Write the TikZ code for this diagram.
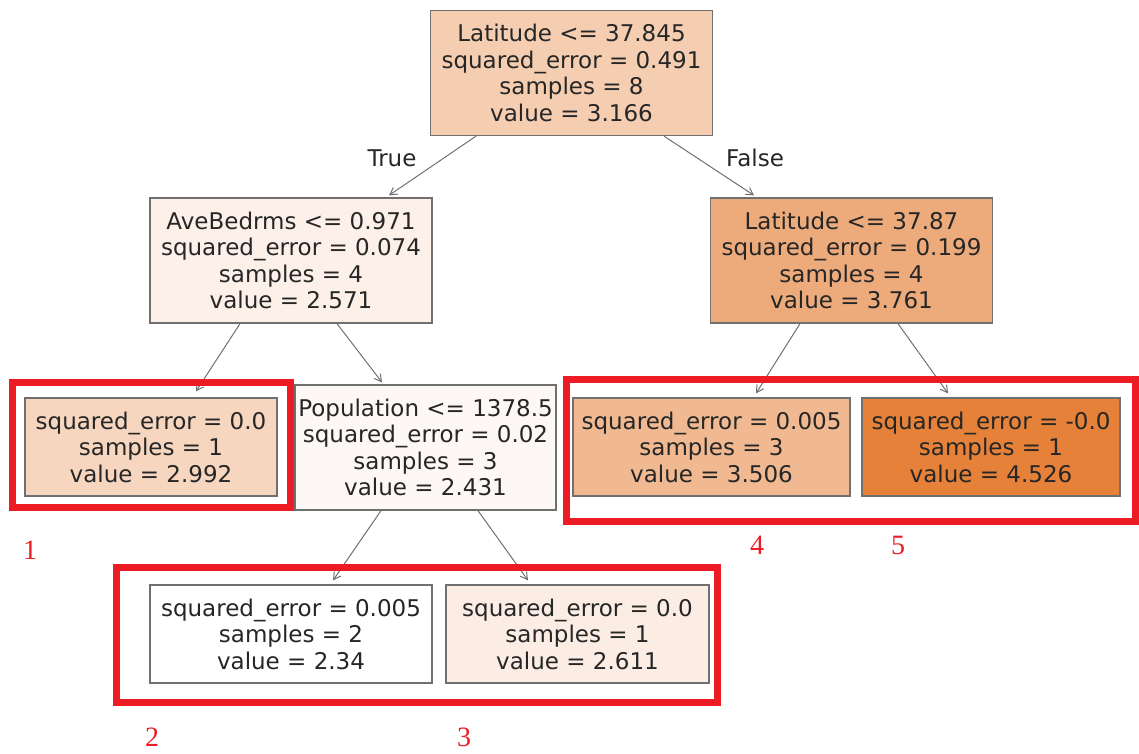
\documentclass[tikz,border=0pt]{standalone}
\usepackage{fontspec}
\setmainfont{DejaVu Sans}
\newfontfamily\numfont{Liberation Serif}
\usetikzlibrary{arrows.meta}
\definecolor{rootfill}{HTML}{F5CEB1}
\definecolor{avefill}{HTML}{FCF0E8}
\definecolor{latfill}{HTML}{EDAB7C}
\definecolor{leafonefill}{HTML}{F6D6BE}
\definecolor{popfill}{HTML}{FDF8F5}
\definecolor{leaffourfill}{HTML}{F0B991}
\definecolor{leaffivefill}{HTML}{E58139}
\definecolor{leafthreefill}{HTML}{FBEDE3}
\definecolor{framered}{HTML}{ED1C24}
\definecolor{edgegray}{HTML}{707070}
\tikzset{
  tbox/.style={draw=edgegray, line width=1.3pt, align=center, inner sep=0pt,
    text=black!85, font=\fontsize{23}{26.5}\selectfont},
  split/.style={tbox, minimum width=282pt, minimum height=125pt},
  leaf/.style={tbox, minimum height=98pt},
  edge/.style={draw=edgegray, line width=1pt, -{Straight Barb[length=7pt,width=8pt]}},
  edgelabel/.style={text=black!85, font=\fontsize{23}{26}\selectfont},
  redframe/.style={draw=framered, line width=7pt},
  numlabel/.style={text=framered, inner sep=1pt, font=\numfont\fontsize{28}{30}\selectfont}
}
\begin{document}
\begin{tikzpicture}[x=1pt,y=-1pt]
\useasboundingbox (0,0) rectangle (1139,753);

% split nodes
\node[split, fill=rootfill] (root) at (571.5,73)
  {Latitude <= 37.845\\squared\_error = 0.491\\samples = 8\\value = 3.166};
\node[split, fill=avefill] (ave) at (291,260.5)
  {AveBedrms <= 0.971\\squared\_error = 0.074\\samples = 4\\value = 2.571};
\node[split, fill=latfill] (lat) at (851.5,260.5)
  {Latitude <= 37.87\\squared\_error = 0.199\\samples = 4\\value = 3.761};
\node[tbox, fill=popfill, minimum width=261pt, minimum height=125pt] (pop) at (425.5,447.5)
  {Population <= 1378.5\\squared\_error = 0.02\\samples = 3\\value = 2.431};

% leaves
\node[leaf, fill=leafonefill, minimum width=252pt] (leafa) at (151,447)
  {squared\_error = 0.0\\samples = 1\\value = 2.992};
\node[leaf, fill=leaffourfill, minimum width=277pt] (leafd) at (711.5,447)
  {squared\_error = 0.005\\samples = 3\\value = 3.506};
\node[leaf, fill=leaffivefill, minimum width=258pt] (leafe) at (991,447)
  {squared\_error = -0.0\\samples = 1\\value = 4.526};
\node[leaf, fill=white, minimum width=282pt] (leafb) at (291,634)
  {squared\_error = 0.005\\samples = 2\\value = 2.34};
\node[leaf, fill=leafthreefill, minimum width=263pt] (leafc) at (577.5,634)
  {squared\_error = 0.0\\samples = 1\\value = 2.611};

% connectors
\draw[edge] ([xshift=-95.5pt]root.south) -- ([xshift=98pt,yshift=2pt]ave.north);
\draw[edge] ([xshift=92.5pt]root.south) -- ([xshift=-97.5pt,yshift=2pt]lat.north);
\draw[edge] ([xshift=-51pt]ave.south) -- ([xshift=45pt,yshift=6pt]leafa.north);
\draw[edge] ([xshift=46pt]ave.south) -- ([xshift=-43.5pt,yshift=2pt]pop.north);
\draw[edge] ([xshift=-51.5pt]lat.south) -- ([xshift=44.5pt,yshift=4pt]leafd.north);
\draw[edge] ([xshift=46.5pt]lat.south) -- ([xshift=-43pt,yshift=4pt]leafe.north);
\draw[edge] ([xshift=-44.5pt]pop.south) -- ([xshift=42pt,yshift=4pt]leafb.north);
\draw[edge] ([xshift=52.5pt]pop.south) -- ([xshift=-49.5pt,yshift=4pt]leafc.north);

\node[edgelabel] (truelab) at (392,158) {True};
\node[edgelabel] (falselab) at (755,158) {False};

% highlighted leaf groups
\draw[redframe] (12.5,382.5) rectangle (290.5,507.5);
\draw[redframe] (566.5,379.5) rectangle (1135.5,521.5);
\draw[redframe] (116.5,567.5) rectangle (717.5,702.5);

\node[numlabel] (numa) at (30,550) {1};
\node[numlabel] (numd) at (757,545) {4};
\node[numlabel] (nume) at (898,545) {5};
\node[numlabel] (numb) at (152,737) {2};
\node[numlabel] (numc) at (464,737) {3};
\end{tikzpicture}
\end{document}
